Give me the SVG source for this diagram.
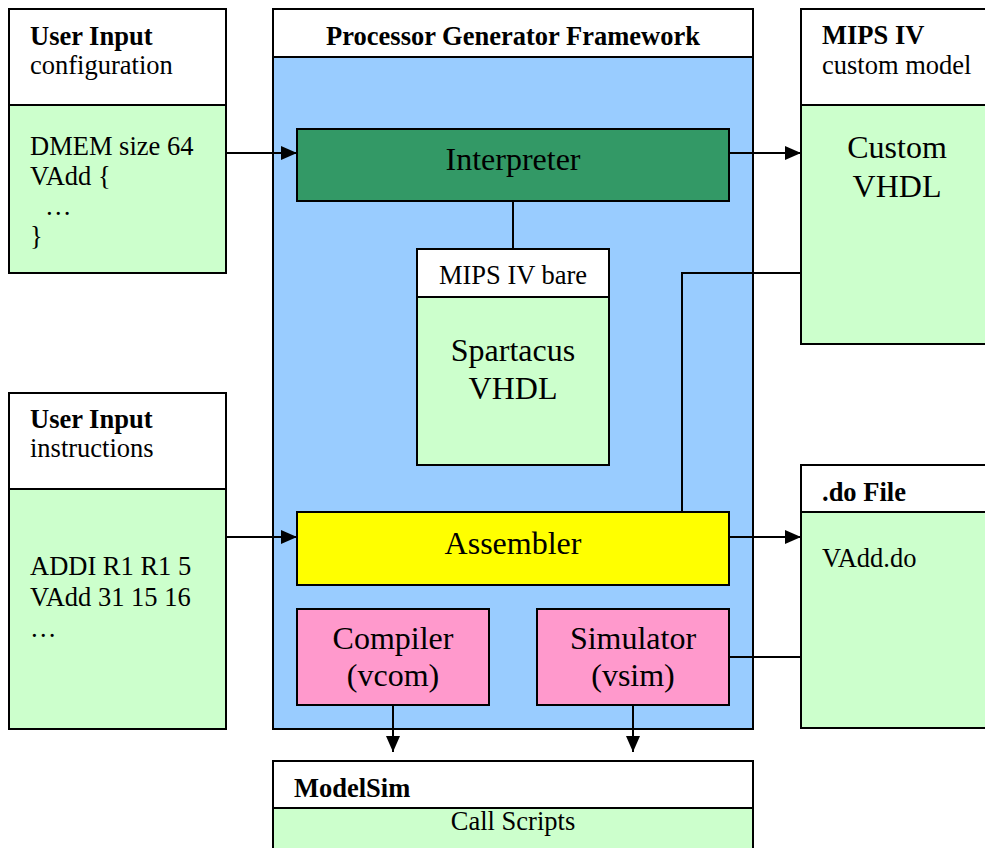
<svg xmlns="http://www.w3.org/2000/svg" width="985" height="848" viewBox="0 0 985 848">
<style>
text{font-family:"Liberation Serif","Times New Roman",serif;fill:#000}
.s{font-size:26.5px}
.b{font-size:26.5px;font-weight:bold}
.l{font-size:32px}
.m{text-anchor:middle}
.box{stroke:#000;stroke-width:2}
.w{fill:#fff}
.g{fill:#ccffcc}
.conn line,.conn polyline{stroke:#000;stroke-width:2;fill:none}
</style>
<defs>
<marker id="ah" viewBox="0 0 16 14" refX="16" refY="7" markerWidth="16" markerHeight="14" markerUnits="userSpaceOnUse" orient="auto">
<path d="M0,0 L16,7 L0,14 Z" fill="#000"/>
</marker>
</defs>
<rect width="985" height="848" fill="#fff"/>

<g id="framework">
<rect class="box" x="273" y="57" width="480" height="672" fill="#99ccff"/>
<rect class="box w" x="273" y="9" width="480" height="48"/>
<text class="b m" x="513" y="45">Processor Generator Framework</text>
</g>

<g id="config">
<rect class="box w" x="9" y="9" width="217" height="96"/>
<rect class="box g" x="9" y="105" width="217" height="168"/>
<text class="b" x="30" y="45">User Input</text>
<text class="s" x="30" y="74">configuration</text>
<text class="s" x="30" y="155">DMEM size 64</text>
<text class="s" x="30" y="185">VAdd {</text>
<text class="s" x="45" y="215">…</text>
<text class="s" x="30" y="245">}</text>
</g>

<g id="instructions">
<rect class="box w" x="9" y="393" width="217" height="96"/>
<rect class="box g" x="9" y="489" width="217" height="240"/>
<text class="b" x="30" y="428">User Input</text>
<text class="s" x="30" y="457">instructions</text>
<text class="s" x="30" y="575">ADDI R1 R1 5</text>
<text class="s" x="30" y="606">VAdd 31 15 16</text>
<text class="s" x="30" y="637">…</text>
</g>

<g id="custom">
<rect class="box w" x="801" y="9" width="190" height="96"/>
<rect class="box g" x="801" y="105" width="190" height="239"/>
<text class="b" x="822" y="44">MIPS IV</text>
<text class="s" x="822" y="74">custom model</text>
<text class="l m" x="897" y="158">Custom</text>
<text class="l m" x="897" y="197">VHDL</text>
</g>

<g id="dofile">
<rect class="box w" x="801" y="465" width="190" height="47"/>
<rect class="box g" x="801" y="512" width="190" height="216"/>
<text class="b" x="822" y="501">.do File</text>
<text class="s" x="822" y="567">VAdd.do</text>
</g>

<g id="interpreter">
<rect class="box" x="297" y="129" width="432" height="72" fill="#339966"/>
<text class="l m" x="513" y="170">Interpreter</text>
</g>

<g id="bare">
<rect class="box w" x="417" y="249" width="192" height="48"/>
<rect class="box g" x="417" y="297" width="192" height="168"/>
<text class="s m" x="513" y="284">MIPS IV bare</text>
<text class="l m" x="513" y="361">Spartacus</text>
<text class="l m" x="513" y="399">VHDL</text>
</g>

<g id="assembler">
<rect class="box" x="297" y="512" width="432" height="73" fill="#ffff00"/>
<text class="l m" x="513" y="554">Assembler</text>
</g>

<g id="compiler">
<rect class="box" x="297" y="609" width="192" height="96" fill="#ff99cc"/>
<text class="l m" x="393" y="649">Compiler</text>
<text class="l m" x="393" y="686">(vcom)</text>
</g>

<g id="simulator">
<rect class="box" x="537" y="609" width="192" height="96" fill="#ff99cc"/>
<text class="l m" x="633" y="649">Simulator</text>
<text class="l m" x="633" y="686">(vsim)</text>
</g>

<g id="modelsim">
<rect class="box w" x="273" y="761" width="480" height="47"/>
<rect class="box g" x="273" y="808" width="480" height="50"/>
<text class="b" x="294" y="797">ModelSim</text>
<text class="s m" x="513" y="830">Call Scripts</text>
</g>

<g class="conn" id="connectors">
<line x1="226" y1="153" x2="297" y2="153" marker-end="url(#ah)"/>
<line x1="729" y1="153" x2="801" y2="153" marker-end="url(#ah)"/>
<line x1="513" y1="201" x2="513" y2="249"/>
<polyline points="801,273 682,273 682,512"/>
<line x1="226" y1="537" x2="297" y2="537" marker-end="url(#ah)"/>
<line x1="729" y1="537" x2="801" y2="537" marker-end="url(#ah)"/>
<line x1="729" y1="657" x2="801" y2="657"/>
<line x1="393" y1="705" x2="393" y2="752" marker-end="url(#ah)"/>
<line x1="633" y1="705" x2="633" y2="752" marker-end="url(#ah)"/>
</g>
</svg>
